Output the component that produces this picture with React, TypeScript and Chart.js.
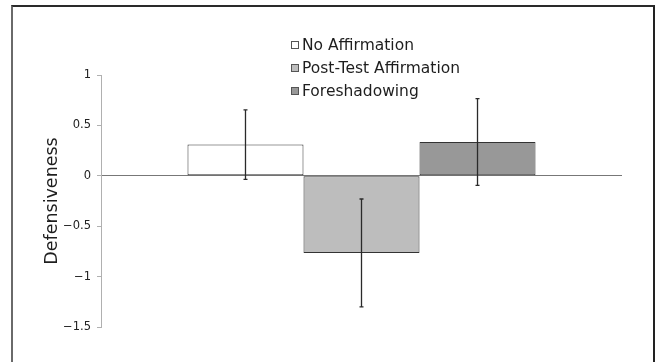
import React, { useEffect, useRef } from "react";
import { Chart, registerables } from "chart.js";

Chart.register(...registerables);

const categories = ["Condition"];
const seriesLabels = ["No Affirmation", "Post-Test Affirmation", "Foreshadowing"];
const seriesValues = [0.31, -0.765, 0.335];
const seriesErrors = [0.345, 0.535, 0.43];
const seriesColors = ["#ffffff", "#bdbdbd", "#989898"];
const yTicks = [-1.5, -1, -0.5, 0, 0.5, 1];

const errorBarPlugin = {
  id: "errorBars",
  afterDatasetsDraw(chart: any) {
    const ctx = chart.ctx;
    const y = chart.scales.y;
    ctx.save();
    ctx.strokeStyle = "#2a2a2a";
    ctx.lineWidth = 1.3;
    chart.data.datasets.forEach((ds: any, i: number) => {
      const meta = chart.getDatasetMeta(i);
      meta.data.forEach((bar: any, j: number) => {
        const v = ds.data[j];
        const e = ds.errors[j];
        const x = bar.x;
        const yt = y.getPixelForValue(v + e);
        const yb = y.getPixelForValue(v - e);
        ctx.beginPath();
        ctx.moveTo(x, yt);
        ctx.lineTo(x, yb);
        ctx.moveTo(x - 2, yt);
        ctx.lineTo(x + 2, yt);
        ctx.moveTo(x - 2, yb);
        ctx.lineTo(x + 2, yb);
        ctx.stroke();
      });
    });
    ctx.restore();
  },
};

const legendPlugin = {
  id: "customLegend",
  afterDraw(chart: any) {
    const ctx = chart.ctx;
    const left = 291;
    const top = 45;
    const gap = 23;
    ctx.save();
    ctx.font = "15.5px 'DejaVu Sans'";
    ctx.textBaseline = "middle";
    ctx.textAlign = "left";
    chart.data.datasets.forEach((ds: any, i: number) => {
      const cy = top + i * gap;
      ctx.fillStyle = ds.backgroundColor;
      ctx.fillRect(left, cy - 4, 8, 8);
      ctx.strokeStyle = "#555";
      ctx.lineWidth = 1;
      ctx.strokeRect(left + 0.5, cy - 3.5, 7, 7);
      ctx.fillStyle = "#1e1e1e";
      ctx.fillText(ds.label, left + 11, cy + 1);
    });
    ctx.restore();
  },
};

export default function App() {
  const ref = useRef<HTMLCanvasElement>(null);
  useEffect(() => {
    if (!ref.current) return;
    const chart = new Chart(ref.current, {
      type: "bar",
      data: {
        labels: categories,
        datasets: seriesLabels.map((label, i) => ({
          label,
          data: [seriesValues[i]],
          errors: [seriesErrors[i]],
          backgroundColor: seriesColors[i],
          borderColor: "#333333",
          borderWidth: 1,
          borderSkipped: false,
          categoryPercentage: 0.668,
          barPercentage: 1,
        })) as any,
      },
      options: {
        responsive: false,
        animation: false,
        layout: { padding: { left: 0, right: 33, top: 75, bottom: 35 } },
        plugins: { legend: { display: false }, tooltip: { enabled: false } },
        scales: {
          x: { display: false },
          y: {
            min: -1.5,
            max: 1,
            afterBuildTicks(scale: any) {
              scale.ticks = yTicks.map((v) => ({ value: v }));
            },
            afterFit(scale: any) {
              scale.width = 101;
            },
            border: { display: true, color: "#b0b0b0", width: 1 },
            grid: {
              drawOnChartArea: true,
              drawTicks: true,
              tickLength: 4,
              color: (c: any) => (c.tick && c.tick.value === 0 ? "#777777" : "rgba(0,0,0,0)"),
              tickColor: "#b0b0b0",
              lineWidth: 1,
            },
            ticks: {
              padding: 6,
              color: "#222",
              font: { family: "'DejaVu Sans'", size: 11.5 },
              callback: (v: any) => String(v).replace("-", "\u2212"),
            },
            title: {
              display: true,
              text: "Defensiveness",
              color: "#1e1e1e",
              font: { family: "'DejaVu Sans'", size: 17.5, lineHeight: 1.2 },
              padding: { top: 42, bottom: 0 },
            },
          },
        },
      },
      plugins: [errorBarPlugin, legendPlugin],
    });
    return () => chart.destroy();
  }, []);
  return (
    <div
      style={{
        position: "fixed",
        left: 0,
        top: 0,
        width: 655,
        height: 362,
        overflow: "hidden",
        background: "#fff",
      }}
    >
      <div
        style={{
          position: "absolute",
          left: 11,
          top: 5,
          width: 644,
          height: 420,
          boxSizing: "border-box",
          borderLeft: "2px solid #6a6a6a",
          borderTop: "2px solid #2a2a2a",
          borderRight: "2px solid #222",
        }}
      />
      <canvas
        ref={ref}
        width={655}
        height={362}
        style={{ position: "absolute", left: 0, top: 0 }}
      />
    </div>
  );
}
